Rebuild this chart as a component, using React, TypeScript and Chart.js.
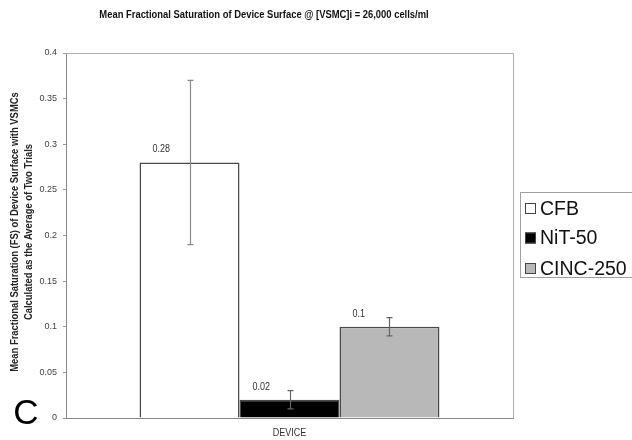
import React, { useEffect, useRef } from 'react';
import { Chart, registerables } from 'chart.js';

Chart.register(...registerables);

const categories = [''];
const seriesNames = ['CFB', 'NiT-50', 'CINC-250'];
const seriesValues = [0.28, 0.02, 0.1];
const errorPlus = [0.09, 0.01, 0.01];
const errorMinus = [0.09, 0.01, 0.01];
const valueLabels = ['0.28', '0.02', '0.1'];
const seriesFills = ['#ffffff', '#000000', '#b8b8b8'];
const errorColors = ['#8a8a8a', '#666666', '#666666'];

const titleText = 'Mean Fractional Saturation of Device Surface @ [VSMC]i = 26,000 cells/ml';
const yTitleLines = [
  'Mean Fractional Saturation (FS) of Device Surface with VSMCs',
  'Calculated as the Average of Two Trials',
];
const xTitleText = 'DEVICE';
const panelLetter = 'C';

const SANS = '"Liberation Sans", Arial, sans-serif';

function narrowText(ctx: any, text: string, x: number, y: number, sx: number) {
  ctx.save();
  ctx.translate(x, y);
  ctx.scale(sx, 1);
  ctx.fillText(text, 0, 0);
  ctx.restore();
}

const decor = {
  id: 'decor',
  beforeDraw(chart: any) {
    const ctx = chart.ctx;
    ctx.save();
    ctx.fillStyle = '#ffffff';
    ctx.fillRect(0, 0, chart.width, chart.height);
    ctx.restore();
  },
  afterDatasetsDraw(chart: any) {
    const ctx = chart.ctx;
    const ys = chart.scales.y;
    const area = chart.chartArea;
    ctx.save();
    ctx.strokeStyle = '#b0b0b0';
    ctx.lineWidth = 1;
    ctx.beginPath();
    ctx.moveTo(area.left, area.top + 0.5);
    ctx.lineTo(area.right + 0.5, area.top + 0.5);
    ctx.lineTo(area.right + 0.5, area.bottom);
    ctx.stroke();

    seriesValues.forEach((v, i) => {
      const meta = chart.getDatasetMeta(i);
      const bar = meta.data[0];
      if (!bar) return;
      const x = Math.round(bar.x) + 0.5;
      const yHi = ys.getPixelForValue(v + errorPlus[i]);
      const yLo = ys.getPixelForValue(v - errorMinus[i]);
      ctx.strokeStyle = errorColors[i];
      ctx.lineWidth = 1.2;
      ctx.beginPath();
      ctx.moveTo(x, yHi);
      ctx.lineTo(x, yLo);
      ctx.moveTo(x - 3, yHi);
      ctx.lineTo(x + 3, yHi);
      ctx.moveTo(x - 3, yLo);
      ctx.lineTo(x + 3, yLo);
      ctx.stroke();

      ctx.fillStyle = '#333333';
      ctx.font = `10px ${SANS}`;
      ctx.textAlign = 'left';
      ctx.textBaseline = 'middle';
      narrowText(ctx, valueLabels[i], bar.x - 37, bar.y - 13, 0.9);
    });
    ctx.restore();
  },
  afterDraw(chart: any) {
    const ctx = chart.ctx;
    ctx.save();
    ctx.fillStyle = '#111111';
    ctx.font = `bold 11px ${SANS}`;
    ctx.textAlign = 'center';
    ctx.textBaseline = 'middle';
    narrowText(ctx, titleText, 264, 15, 0.855);

    ctx.save();
    ctx.translate(0, 232);
    ctx.rotate(-Math.PI / 2);
    ctx.scale(0.94, 1);
    ctx.font = `bold 10px ${SANS}`;
    ctx.fillStyle = '#222222';
    ctx.fillText(yTitleLines[0], 0, 15);
    ctx.fillText(yTitleLines[1], 0, 29);
    ctx.restore();

    ctx.font = `10px ${SANS}`;
    ctx.fillStyle = '#333333';
    narrowText(ctx, xTitleText, (chart.chartArea.left + chart.chartArea.right) / 2, 433, 0.9);

    ctx.font = `35px ${SANS}`;
    ctx.fillStyle = '#000000';
    ctx.fillText(panelLetter, 26, 414);

    ctx.strokeStyle = '#a0a0a0';
    ctx.lineWidth = 1;
    ctx.strokeRect(520.5, 192.5, 120, 85);
    const rowY = [208.5, 238, 268.5];
    seriesNames.forEach((name, i) => {
      ctx.fillStyle = seriesFills[i];
      ctx.fillRect(525, rowY[i] - 5.5, 11, 11);
      ctx.strokeStyle = '#444444';
      ctx.strokeRect(525.5, rowY[i] - 5, 10, 10);
      ctx.fillStyle = '#111111';
      ctx.font = `19.5px ${SANS}`;
      ctx.textAlign = 'left';
      ctx.fillText(name, 540, rowY[i] + 1);
    });
    ctx.restore();
  },
};

export default function App() {
  const ref = useRef<HTMLCanvasElement | null>(null);
  useEffect(() => {
    if (!ref.current) return;
    const chart = new Chart(ref.current, {
      type: 'bar',
      data: {
        labels: categories,
        datasets: seriesNames.map((name, i) => ({
          label: name,
          data: [seriesValues[i]],
          backgroundColor: seriesFills[i],
          borderColor: '#4a4a4a',
          borderWidth: 1.5,
          categoryPercentage: 0.671,
          barPercentage: 1,
        })),
      },
      options: {
        responsive: false,
        animation: false,
        layout: { padding: { top: 53, right: 119, left: 0, bottom: 0 } },
        plugins: {
          legend: { display: false },
          title: { display: false },
          tooltip: { enabled: false },
        },
        scales: {
          x: {
            grid: { display: false },
            ticks: { display: false },
            border: { color: '#888888' },
            afterFit: (s: any) => { s.height = 22; },
          },
          y: {
            min: 0,
            max: 0.4,
            ticks: {
              stepSize: 0.05,
              color: '#444444',
              font: { size: 9, family: SANS },
              padding: 6,
              callback: (v: any) => String(Number(Number(v).toFixed(2))),
            },
            grid: { drawOnChartArea: false, drawTicks: true, tickLength: 3, color: '#999999' },
            border: { color: '#888888' },
            afterFit: (s: any) => { s.width = 66; },
          },
        },
      },
      plugins: [decor],
    });
    return () => chart.destroy();
  }, []);
  return (
    <div style={{ position: 'absolute', left: 0, top: 0, width: 632, height: 440 }}>
      <canvas ref={ref} width={632} height={440} />
    </div>
  );
}
